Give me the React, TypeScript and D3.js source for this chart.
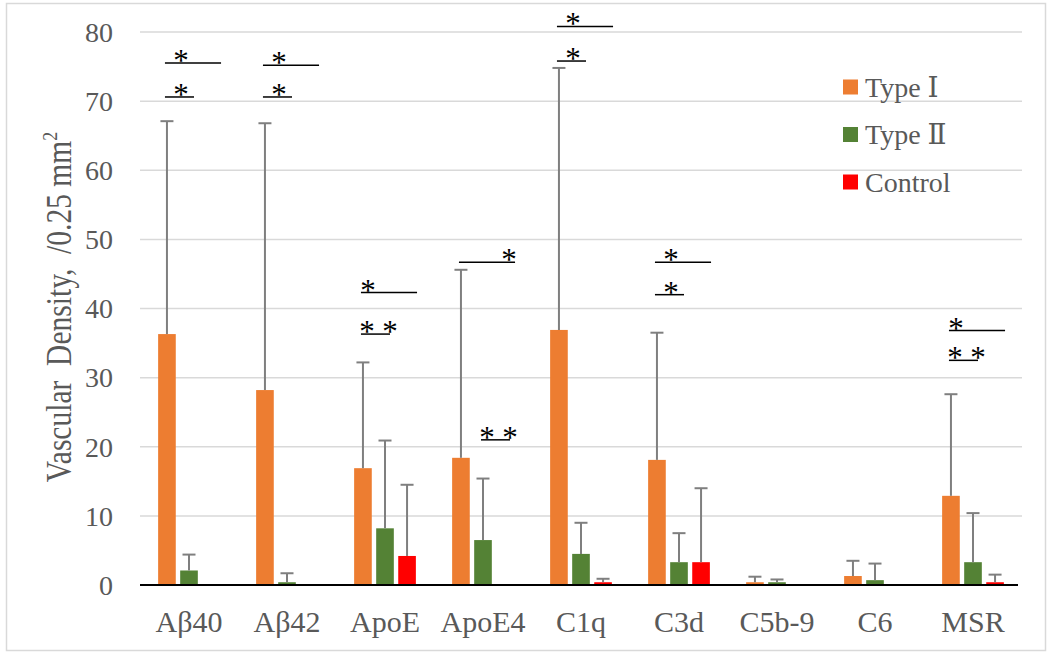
import React from 'react';
import * as d3 from 'd3';

const categories = ['Aβ40', 'Aβ42', 'ApoE', 'ApoE4', 'C1q', 'C3d', 'C5b-9', 'C6', 'MSR'];
const seriesNames = ['Type Ⅰ', 'Type Ⅱ', 'Control'];
const seriesColors = ['#ED7D31', '#548235', '#FF0000'];

// means per category (null = no bar)
const typeOneMean = [36.3, 28.2, 16.9, 18.4, 36.9, 18.1, 0.4, 1.3, 12.9];
const typeTwoMean = [2.1, 0.4, 8.2, 6.5, 4.5, 3.3, 0.4, 0.7, 3.3];
const controlMean: (number | null)[] = [null, null, 4.2, null, 0.4, 3.3, null, null, 0.4];

// upper end of error bars
const typeOneErr = [67.1, 66.8, 32.2, 45.6, 74.8, 36.5, 1.2, 3.5, 27.6];
const typeTwoErr = [4.4, 1.7, 20.9, 15.4, 9.0, 7.5, 0.8, 3.1, 10.4];
const controlErr: (number | null)[] = [null, null, 14.5, null, 0.9, 14.0, null, null, 1.5];

const yTicks = [0, 10, 20, 30, 40, 50, 60, 70, 80];

// significance marks: category, height (in data units), compared series, star layout
const sigCats = ['Aβ40', 'Aβ40', 'Aβ42', 'Aβ42', 'ApoE', 'ApoE', 'ApoE4', 'ApoE4', 'C1q', 'C1q', 'C3d', 'C3d', 'MSR', 'MSR'];
const sigLevels = [75.5, 70.6, 75.2, 70.6, 42.3, 36.3, 46.7, 21.0, 80.8, 75.8, 46.7, 42.0, 36.8, 32.5];
const sigFrom = [0, 0, 0, 0, 0, 0, 0, 1, 0, 0, 0, 0, 0, 0];
const sigTo = [2, 1, 2, 1, 2, 1, 2, 2, 2, 1, 2, 1, 2, 1];
const sigStars = ['mid', 'mid', 'mid', 'mid', 'left', 'double', 'right', 'double', 'mid', 'mid', 'mid', 'mid', 'left', 'double'];

const W = 1049;
const H = 654;
const serif = '"Liberation Serif", "Times New Roman", "DejaVu Serif", serif';
const textColor = '#595959';

export default function App() {
  const x = d3.scaleBand<string>().domain(categories).range([140, 1022]).paddingInner(0.37).paddingOuter(0.185);
  const x1 = d3.scaleBand<number>().domain([0, 1, 2]).range([0, x.bandwidth()]).paddingInner(0.2);
  const y = d3.scaleLinear().domain([0, 80]).range([585, 32]);
  const bw = x1.bandwidth();

  const means = [typeOneMean, typeTwoMean, controlMean];
  const errs = [typeOneErr, typeTwoErr, controlErr];

  const barCenter = (cat: string, s: number) => (x(cat) ?? 0) + (x1(s) ?? 0) + bw / 2;

  return (
    <div style={{ position: 'fixed', left: 0, top: 0 }}>
      <svg width={W} height={H} style={{ display: 'block', background: '#fff' }}>
        <rect x={6.5} y={3.5} width={1039} height={647} fill="#fff" stroke="#d9d9d9" strokeWidth={1.5} />

        {/* gridlines */}
        {yTicks.slice(1).map(t => (
          <line key={t} x1={140} x2={1022} y1={y(t)} y2={y(t)} stroke="#d9d9d9" strokeWidth={1.5} />
        ))}

        {/* y tick labels */}
        {yTicks.map(t => (
          <text key={t} x={113} y={y(t)} dy="0.35em" textAnchor="end" fontFamily={serif} fontSize={28} fill={textColor}>
            {t}
          </text>
        ))}

        {/* bars */}
        {categories.map((cat, i) =>
          means.map((arr, s) => {
            const v = arr[i];
            if (v == null) return null;
            return (
              <rect
                key={cat + s}
                x={(x(cat) ?? 0) + (x1(s) ?? 0)}
                y={y(v)}
                width={bw}
                height={y(0) - y(v)}
                fill={seriesColors[s]}
              />
            );
          })
        )}

        {/* error bars */}
        {categories.map((cat, i) =>
          errs.map((arr, s) => {
            const e = arr[i];
            const v = means[s][i];
            if (e == null || v == null) return null;
            const cx = barCenter(cat, s);
            return (
              <g key={'e' + cat + s} stroke="#7f7f7f" strokeWidth={2}>
                <line x1={cx} x2={cx} y1={y(v)} y2={y(e)} />
                <line x1={cx - 6.5} x2={cx + 6.5} y1={y(e)} y2={y(e)} />
              </g>
            );
          })
        )}

        {/* x axis */}
        <line x1={140} x2={1018} y1={y(0)} y2={y(0)} stroke="#000" strokeWidth={2} />

        {categories.map(cat => (
          <text
            key={'c' + cat}
            x={(x(cat) ?? 0) + x.bandwidth() / 2}
            y={632}
            textAnchor="middle"
            fontFamily={serif}
            fontSize={30}
            fill={textColor}
          >
            {cat}
          </text>
        ))}

        {/* significance marks */}
        {sigCats.map((cat, k) => {
          const from = sigFrom[k];
          const to = sigTo[k];
          const x0 = barCenter(cat, from) - 2;
          const x2 = barCenter(cat, to) + (from === 0 && to === 2 ? 10 : 5);
          const ly = y(sigLevels[k]);
          const kind = sigStars[k];
          const starXs =
            kind === 'double' ? [x0 + 6, x0 + 29] : kind === 'left' ? [x0 + 7] : kind === 'right' ? [x2 - 6] : [x0 + 16];
          return (
            <g key={'s' + k}>
              <line x1={x0} x2={x2} y1={ly} y2={ly} stroke="#000" strokeWidth={1.5} />
              {starXs.map((sx, j) => (
                <text key={j} x={sx} y={ly + 8} textAnchor="middle" fontFamily={serif} fontSize={31} fill="#000">
                  *
                </text>
              ))}
            </g>
          );
        })}

        {/* y axis title */}
        <text
          transform="translate(71,307) rotate(-90) scale(0.82,1)"
          textAnchor="middle"
          fontFamily={serif}
          fontSize={36}
          fill={textColor}
          xmlSpace="preserve"
        >
          {'Vascular  Density,  /0.25 mm'}
          <tspan fontSize={22} dy={-14}>2</tspan>
        </text>

        {/* legend */}
        {seriesNames.map((name, s) => (
          <g key={name} transform={`translate(843, ${87 + s * 47.5})`}>
            <rect x={0} y={-7.5} width={15} height={15} fill={seriesColors[s]} />
            <text x={22} y={0} dy="0.35em" fontFamily={serif} fontSize={28} fill={textColor}>
              {name}
            </text>
          </g>
        ))}
      </svg>
    </div>
  );
}
